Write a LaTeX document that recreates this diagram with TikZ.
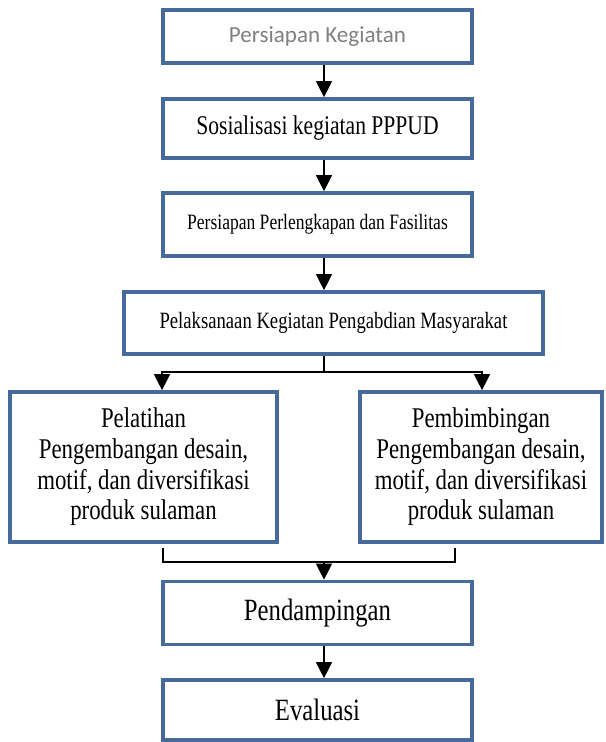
\documentclass[tikz,border=0pt]{standalone}
\usepackage{fontspec}
\usepackage{xcolor}
\usepackage{tikz}
\usetikzlibrary{arrows.meta,positioning,calc}

\newfontfamily\flowfont[FakeStretch=0.8]{Liberation Serif}
\newfontfamily\firstfont{Carlito}
\definecolor{boxblue}{RGB}{70,106,155}

\begin{document}
\begin{tikzpicture}[
      box/.style={draw=boxblue, line width=2.6pt, fill=white, minimum width=7.725cm,
                  inner sep=0pt, align=center},
      arr/.style={-{Triangle[width=11.5pt,length=11.5pt]}, line width=0.9pt},
      lnk/.style={line width=0.9pt}
    ]
    \useasboundingbox (0,0) rectangle (15.15,18.55);

    \node[box, minimum height=1.325cm, text=black!50,
          font={\firstfont\fontsize{16.4pt}{19pt}\selectfont}] (prep) at (7.9375,17.6375) {Persiapan Kegiatan};
    \node[box, minimum height=1.475cm,
          font={\flowfont\fontsize{19.2pt}{23pt}\selectfont}] (sosial) at (7.9375,15.3375) {\raisebox{3pt}{Sosialisasi kegiatan PPPUD}};
    \node[box, minimum height=1.575cm,
          font={\flowfont\fontsize{15.6pt}{19pt}\selectfont}] (fasil) at (7.9375,12.9375) {\raisebox{3pt}{Persiapan Perlengkapan dan Fasilitas}};
    \node[box, minimum width=10.475cm, minimum height=1.55cm,
          font={\flowfont\fontsize{16.6pt}{20pt}\selectfont}] (pelaks) at (8.3375,10.475) {\raisebox{3pt}{Pelaksanaan Kegiatan Pengabdian Masyarakat}};
    \node[box, minimum width=6.675cm, minimum height=3.75cm,
          font={\flowfont\fontsize{20.3pt}{21.8pt}\selectfont}] (latih) at (3.5875,6.875)
          {Pelatihan\\ Pengembangan desain,\\ motif, dan diversifikasi\\ produk sulaman};
    \node[box, minimum width=6.05cm, minimum height=3.75cm,
          font={\flowfont\fontsize{20.3pt}{21.8pt}\selectfont}] (bimbing) at (12.025,6.875)
          {Pembimbingan\\ Pengembangan desain,\\ motif, dan diversifikasi\\ produk sulaman};
    \node[box, minimum height=1.575cm,
          font={\flowfont\fontsize{22pt}{26pt}\selectfont}] (damping) at (7.9375,3.225) {Pendampingan};
    \node[box, minimum height=1.5cm,
          font={\flowfont\fontsize{22pt}{26pt}\selectfont}] (eval) at (7.9375,0.8) {Evaluasi};

    % branch and merge points
    \coordinate (split) at (8.1,9.25);
    \coordinate (splitL) at (4.05,9.25);
    \coordinate (splitR) at (12.05,9.25);
    \coordinate (merge) at (8.1,4.5);
    \coordinate (mergeL) at (4.075,4.5);
    \coordinate (mergeR) at (11.375,4.5);

    \draw[arr] (prep.south -| split) -- (sosial.north -| split);
    \draw[arr] (sosial.south -| split) -- (fasil.north -| split);
    \draw[arr] (fasil.south -| split) -- (pelaks.north -| split);
    \draw[lnk] (pelaks.south -| split) -- (split);
    \draw[arr] (split) -- (splitL) -- (latih.north -| splitL);
    \draw[arr] (split) -- (splitR) -- (bimbing.north -| splitR);
    \draw[lnk] ([yshift=-3pt]latih.south -| mergeL) -- (mergeL) -- (mergeR) -- ([yshift=-3pt]bimbing.south -| mergeR);
    \draw[arr] (merge) -- (damping.north -| merge);
    \draw[arr] (damping.south -| merge) -- (eval.north -| merge);
  \end{tikzpicture}
\end{document}
